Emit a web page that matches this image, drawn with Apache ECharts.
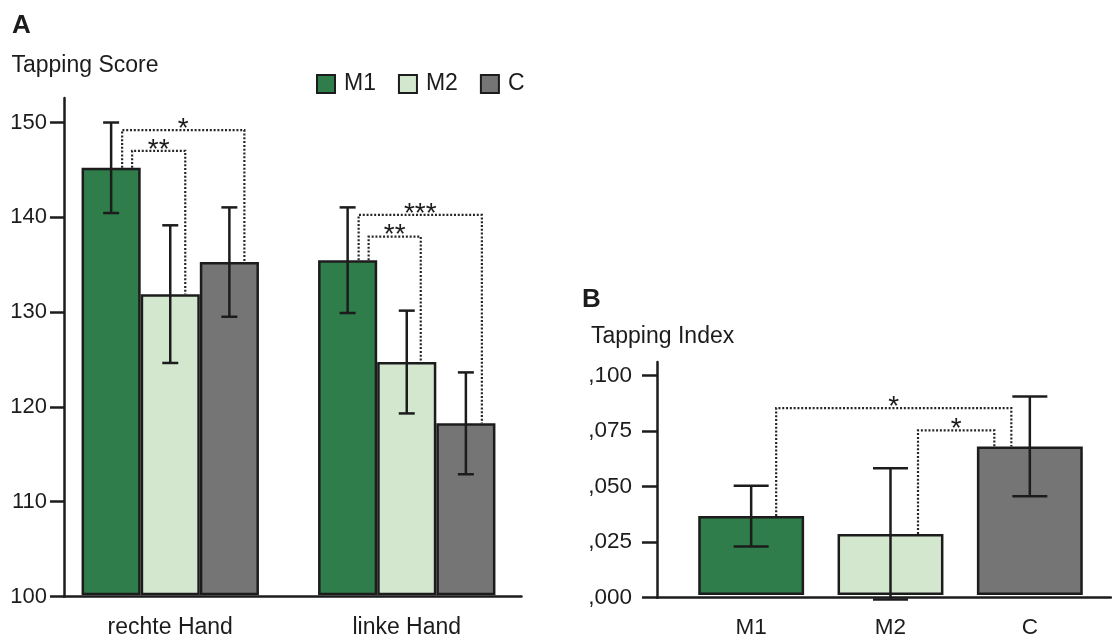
<!DOCTYPE html>
<html>
<head>
<meta charset="utf-8">
<script src="https://cdn.jsdelivr.net/npm/echarts@6/dist/echarts.min.js"></script>
<style>
html,body{margin:0;padding:0;background:#fff;}
#chart{width:1112px;height:639px;}
</style>
</head>
<body>
<div id="chart"></div>
<script>
// ---------- DATA ----------
// Panel A: Tapping Score
const handCategories = ['rechte Hand', 'linke Hand'];
const groupNames = ['M1', 'M2', 'C'];
const scoreM1 = [145.2, 135.4];
const scoreM2 = [131.8, 124.6];
const scoreC  = [135.2, 118.1];
const errM1 = [4.8, 5.6];
const errM2 = [7.3, 5.45];
const errC  = [5.8, 5.4];
const scoreTicks = [100, 110, 120, 130, 140, 150];
// significance brackets A: category, from group, to group, bracket level, label
const sigCatA   = [0, 0, 1, 1];
const sigFromA  = [0, 0, 0, 0];
const sigToA    = [2, 1, 2, 1];
const sigLevelA = [149.2, 147.0, 140.2, 137.9];
const sigLabelA = ['*', '**', '***', '**'];

// Panel B: Tapping Index
const indexCategories = ['M1', 'M2', 'C'];
const indexValues = [0.0359, 0.0278, 0.0676];
const indexErr    = [0.0138, 0.0299, 0.0227];
const indexTicks  = [0, 0.025, 0.05, 0.075, 0.1];
const sigFromB  = [0, 1];
const sigToB    = [2, 2];
const sigLevelB = [0.0850, 0.0749];
const sigLabelB = ['*', '*'];

// ---------- STYLE / LAYOUT ----------
const colors = ['#2e7d4a', '#d3e7cf', '#747574'];
const ink = '#1c1c1c';
const font = 'Liberation Sans, Arial, Helvetica, sans-serif';
const barFracA = 0.25, barFracB = 0.76;
const capHalfA = 8, capHalfB = 17.5;
// bracket horizontal offsets (px) from the bar centres
const sigDxFromA = [11, 21, 11, 21];
const sigDxToA   = [15, 15, 16, 14];
const sigDxFromB = [25, 27.5];
const sigDxToB   = [-18.5, -35.5];

const scoreSeries = [scoreM1, scoreM2, scoreC];
const errSeries = [errM1, errM2, errC];

const chart = echarts.init(document.getElementById('chart'), null, {renderer: 'canvas'});

function barCenterA(api, cat, g) {
  const c = api.coord([cat, 100])[0];
  const bw = api.size([1, 0])[0] * barFracA;
  return c + (g - 1) * bw;
}

function errLines(x, yt, yb, half) {
  const st = {stroke: ink, lineWidth: 2.5};
  return {type: 'group', children: [
    {type: 'line', shape: {x1: x, y1: yt, x2: x, y2: yb}, style: st},
    {type: 'line', shape: {x1: x - half, y1: yt, x2: x + half, y2: yt}, style: st},
    {type: 'line', shape: {x1: x - half, y1: yb, x2: x + half, y2: yb}, style: st}
  ]};
}

function errRenderA(params, api) {
  const cat = api.value(0), v = api.value(1), e = api.value(2), g = api.value(3);
  const x = barCenterA(api, cat, g);
  return errLines(x, api.coord([cat, v + e])[1], api.coord([cat, v - e])[1], capHalfA);
}

function errRenderB(params, api) {
  const cat = api.value(0), v = api.value(1), e = api.value(2);
  const x = api.coord([cat, 0])[0];
  return errLines(x, api.coord([cat, v + e])[1], api.coord([cat, v - e])[1], capHalfB);
}

function bracketShape(x1, y1, x2, y2, yl, label) {
  return {type: 'group', children: [
    {type: 'polyline', shape: {points: [[x1, y1], [x1, yl], [x2, yl], [x2, y2]]},
     style: {stroke: '#262626', lineWidth: 2.2, lineDash: [2, 1.8], fill: null}},
    {type: 'text', x: (x1 + x2) / 2, y: yl - 1,
     style: {text: label, fill: ink, font: '28px ' + font, align: 'center', verticalAlign: 'middle'}}
  ]};
}

function sigRenderA(params, api) {
  const i = params.dataIndex;
  const cat = sigCatA[i], f = sigFromA[i], t = sigToA[i];
  const x1 = barCenterA(api, cat, f) + sigDxFromA[i];
  const x2 = barCenterA(api, cat, t) + sigDxToA[i];
  const y1 = api.coord([cat, scoreSeries[f][cat]])[1];
  const y2 = api.coord([cat, scoreSeries[t][cat]])[1];
  const yl = api.coord([cat, sigLevelA[i]])[1];
  return bracketShape(x1, y1, x2, y2, yl, sigLabelA[i]);
}

function sigRenderB(params, api) {
  const i = params.dataIndex;
  const f = sigFromB[i], t = sigToB[i];
  const x1 = api.coord([f, 0])[0] + sigDxFromB[i];
  const x2 = api.coord([t, 0])[0] + sigDxToB[i];
  const y1 = api.coord([f, indexValues[f]])[1];
  const y2 = api.coord([t, indexValues[t]])[1];
  const yl = api.coord([f, sigLevelB[i]])[1];
  return bracketShape(x1, y1, x2, y2, yl, sigLabelB[i]);
}

const errDataA = [];
for (let g = 0; g < 3; g++) {
  for (let c = 0; c < handCategories.length; c++) {
    errDataA.push([c, scoreSeries[g][c], errSeries[g][c], g]);
  }
}
const errDataB = indexValues.map((v, i) => [i, v, indexErr[i]]);
const sigDataA = sigLevelA.map((l, i) => [sigCatA[i], l]);
const sigDataB = sigLevelB.map((l, i) => [sigFromB[i], l]);

const axisLineStyle = {color: ink, width: 2.5};
const yMaxA = 152.6, yMaxB = 0.106;

const option = {
  animation: false,
  backgroundColor: '#fff',
  textStyle: {fontFamily: font, color: ink},
  title: [
    {text: 'A', left: 12, top: 13, padding: 0, textStyle: {fontSize: 26, fontWeight: 'bold', color: ink, fontFamily: font}},
    {text: 'Tapping Score', left: 11.5, top: 54, padding: 0, textStyle: {fontSize: 23, fontWeight: 'normal', color: ink, fontFamily: font}},
    {text: 'B', left: 582, top: 287, padding: 0, textStyle: {fontSize: 26, fontWeight: 'bold', color: ink, fontFamily: font}},
    {text: 'Tapping Index', left: 591, top: 325.5, padding: 0, textStyle: {fontSize: 23, fontWeight: 'normal', color: ink, fontFamily: font}}
  ],
  legend: {
    data: groupNames,
    left: 316, top: 72.5, padding: 0,
    itemWidth: 18, itemHeight: 18, itemGap: 22,
    icon: 'rect',
    itemStyle: {borderColor: ink, borderWidth: 2},
    textStyle: {fontSize: 23, color: ink, fontFamily: font, padding: [0, 0, 0, 4]},
    selectedMode: false
  },
  grid: [
    {left: 64, top: 98, width: 457.5, bottom: 42.5},
    {left: 52, top: 98, width: 473, bottom: 42.5},
    {left: 657, top: 362, right: 1, bottom: 41.3},
    {left: 681.5, top: 362, width: 418, bottom: 41.3}
  ],
  xAxis: [
    {gridIndex: 0, type: 'value', min: 0, max: 1, axisLine: {show: true, lineStyle: axisLineStyle},
     axisTick: {show: false}, axisLabel: {show: false}, splitLine: {show: false}},
    {gridIndex: 1, type: 'category', data: handCategories, axisLine: {show: false}, axisTick: {show: false},
     axisLabel: {fontSize: 23, color: ink, margin: 22, fontFamily: font}},
    {gridIndex: 2, type: 'value', min: 0, max: 1, axisLine: {show: true, lineStyle: axisLineStyle},
     axisTick: {show: false}, axisLabel: {show: false}, splitLine: {show: false}},
    {gridIndex: 3, type: 'category', data: indexCategories, axisLine: {show: false}, axisTick: {show: false},
     axisLabel: {fontSize: 22.5, color: ink, margin: 21, fontFamily: font}}
  ],
  yAxis: [
    {gridIndex: 0, type: 'value', min: 100, max: yMaxA,
     axisLine: {show: true, lineStyle: axisLineStyle},
     axisTick: {show: true, length: 14, lineStyle: {color: ink, width: 2.5}, customValues: scoreTicks},
     axisLabel: {fontSize: 22, color: ink, margin: 17, fontFamily: font, customValues: scoreTicks},
     splitLine: {show: false}},
    {gridIndex: 1, type: 'value', min: 100, max: yMaxA, show: false},
    {gridIndex: 2, type: 'value', min: 0, max: yMaxB,
     axisLine: {show: true, lineStyle: axisLineStyle},
     axisTick: {show: true, length: 15, lineStyle: {color: ink, width: 2.5}, customValues: indexTicks},
     axisLabel: {fontSize: 22.5, color: ink, margin: 25, fontFamily: font, customValues: indexTicks,
       formatter: function (v) { return ',' + Number(v).toFixed(3).slice(2); }},
     splitLine: {show: false}},
    {gridIndex: 3, type: 'value', min: 0, max: yMaxB, show: false}
  ],
  series: [
    ...groupNames.map((name, g) => ({
      name: name, type: 'bar', xAxisIndex: 1, yAxisIndex: 1,
      data: scoreSeries[g], barWidth: (barFracA * 100) + '%', barGap: '0%',
      itemStyle: {color: colors[g], borderColor: ink, borderWidth: 2.5}
    })),
    {type: 'custom', name: 'errA', xAxisIndex: 1, yAxisIndex: 1, renderItem: errRenderA,
     data: errDataA, encode: {x: 0, y: 1}, clip: false, z: 5},
    {type: 'custom', name: 'sigA', xAxisIndex: 1, yAxisIndex: 1, renderItem: sigRenderA,
     data: sigDataA, encode: {x: 0, y: 1}, clip: false, z: 4},
    {name: 'index', type: 'bar', xAxisIndex: 3, yAxisIndex: 3,
     data: indexValues.map((v, i) => ({value: v, itemStyle: {color: colors[i]}})),
     barWidth: (barFracB * 100) + '%',
     itemStyle: {borderColor: ink, borderWidth: 2.5}},
    {type: 'custom', name: 'errB', xAxisIndex: 3, yAxisIndex: 3, renderItem: errRenderB,
     data: errDataB, encode: {x: 0, y: 1}, clip: false, z: 5},
    {type: 'custom', name: 'sigB', xAxisIndex: 3, yAxisIndex: 3, renderItem: sigRenderB,
     data: sigDataB, encode: {x: 0, y: 1}, clip: false, z: 4}
  ]
};
chart.setOption(option);
</script>
</body>
</html>
